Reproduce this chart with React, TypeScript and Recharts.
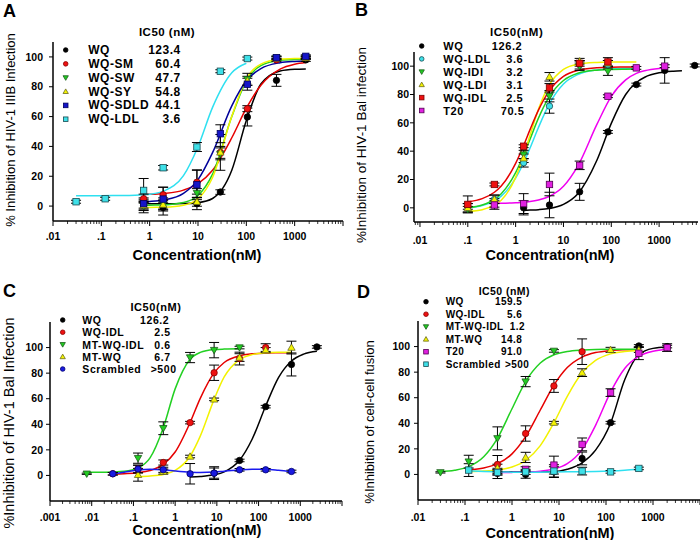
import React from 'react';
import { ComposedChart, Line, Scatter, ErrorBar, XAxis, YAxis } from 'recharts';

const FONT = '"Liberation Sans", Arial, Helvetica, sans-serif';

// ---------------- Panel A : HIV-1 IIIB infection ----------------
const A_CONC = [0.03, 0.12, 0.75, 1.9, 9.5, 29, 105, 420, 1700];
const A_WQ = [null, null, 0.5, -1, 1.6, 9.4, 59.7, 84.3, 98];
const A_WQ_ERR = [0, 0, 5, 5, 4, 1.5, 6, 4, 1];
const A_SM = [null, null, 5, 7.6, 16, 36, 65.3, 98, 99.5];
const A_SM_ERR = [0, 0, 3, 5, 8, 4, 2, 1, 1];
const A_SW = [null, null, 0, 1.5, 8.7, 35, 85, 99.5, 99.5];
const A_SW_ERR = [0, 0, 3, 4, 3, 4, 4, 1, 1];
const A_SY = [null, null, 0.5, 1, 2.9, 36, 84, 99, 99.5];
const A_SY_ERR = [0, 0, 3, 3, 3, 12, 3, 1, 1];
const A_SDLD = [null, null, 1.6, 4.7, 14.3, 48.5, 81.7, 99.5, 100.4];
const A_SDLD_ERR = [0, 0, 3, 8, 10, 6, 4, 1, 1];
const A_LDL = [2.9, 4.9, 10.5, 25.7, 39.6, 90.4, 98.9, null, null];
const A_LDL_ERR = [1, 1, 8, 1.5, 3, 1, 1, 0, 0];

const A_GRID = [0.03, 0.05, 0.1, 0.2, 0.5, 0.75, 1, 2, 5, 10, 20, 50, 100, 200, 500, 1000, 1700];
const A_WQ_FIT = [null, null, null, null, null, 1.5, 1.5, 1.5, 1.65, 2.3, 5.1, 24, 57.3, 81.8, 90.6, 91.7, 91.9];
const A_SM_FIT = [null, null, null, null, null, 7.8, 7.9, 8.5, 10.7, 15, 24, 45.8, 65.6, 81, 91.8, 95.1, 96.2];
const A_SW_FIT = [null, null, null, null, null, 0.5, 0.6, 0.8, 2.4, 7.1, 21.4, 60, 84, 94.1, 97.7, 98.3, 98.4];
const A_SY_FIT = [null, null, null, null, null, -1, -0.9, -0.75, 0.55, 4.9, 19.2, 60.2, 85.3, 95.2, 98.4, 98.9, 99];
const A_SDLD_FIT = [null, null, null, null, null, 2.9, 3.1, 4.1, 8.5, 17.7, 35.8, 67.2, 84, 92.2, 96.1, 97, 97.3];
const A_LDL_FIT = [7, 7, 7, 7.1, 7.3, 7.6, 8, 10.2, 20.4, 39.8, 66.2, 89.4, 95.8, null, null, null, null];

// ---------------- Panel B : HIV-1 Bal infection ----------------
const B_CONC = [0.1, 0.36, 1.47, 5.1, 21.8, 85, 334, 1307, 5550];
const B_WQ = [null, null, 0, 2, 11.3, 53.6, 87, 97, 100.5];
const B_WQ_ERR = [0, 0, 5, 9, 6, 1, 1, 9, 1];
const B_LDL = [1, 6, 31.8, 71.8, 101, 101, null, null, null];
const B_LDL_ERR = [2, 3, 3, 5, 3, 3, 0, 0, 0];
const B_IDI = [-1, 3.5, 37.6, 78.8, 100, 96.5, null, null, null];
const B_IDI_ERR = [2, 3, 3, 4, 3, 3, 0, 0, 0];
const B_LDI = [0, 6, 35, 92.5, 103.5, 102, null, null, null];
const B_LDI_ERR = [3, 3, 3, 3, 2, 2, 0, 0, 0];
const B_IDL = [2.4, 16.5, 43.5, 84.7, 102, 103, null, null, null];
const B_IDL_ERR = [6, 1, 1, 3, 2, 3, 0, 0, 0];
const B_T20 = [null, 2, 3, 16.5, 30, 78.8, 98.8, 100, null];
const B_T20_ERR = [0, 3, 7, 8, 3, 1, 1, 1, 0];

const B_GRID = [0.1, 0.2, 0.36, 0.5, 1, 1.47, 2, 3, 5, 10, 20, 50, 100, 200, 334, 500, 1000, 1307, 2000, 3000];
const B_WQ_FIT = [null, null, null, null, null, -1.8, -1.6, -1.3, -0.5, 2.4, 9.9, 33.6, 59.6, 80, 88.5, 92.2, 95.3, 95.9, 96.4, 96.7];
const B_LDL_FIT = [0, 1.6, 5, 8.3, 20.9, 31.8, 42.2, 56.7, 73, 87.4, 94.1, 97.3, 98.1, 98.4, 98.5, null, null, null, null, null];
const B_IDI_FIT = [0.1, 2, 6, 10, 24.9, 37.3, 48.5, 63.3, 78.1, 89.9, 95, 97.2, 97.7, 97.9, 98, null, null, null, null, null];
const B_LDI_FIT = [-2.5, -1.3, 2.1, 5.4, 21.5, 36.9, 51.2, 69.6, 86.6, 97.7, 101.4, 102.6, 102.9, 103, 103, null, null, null, null, null];
const B_IDL_FIT = [4.3, 6.5, 11, 15.4, 31.4, 44.1, 55.2, 69, 82.4, 92.8, 97, 98.8, 99.3, 99.4, 99.5, null, null, null, null, null];
const B_T20_FIT = [null, null, 3.1, 3.2, 3.6, 3.9, 4.4, 5.5, 8, 15.2, 29.6, 58.9, 78.7, 90.3, 94.9, 96.8, 98.4, 98.7, null, null];

// ---------------- Panel C : HIV-1 Bal infection ----------------
const C_CONC = [0.0076, 0.032, 0.129, 0.52, 2.28, 8.6, 35, 148, 614, 2500];
const C_WQ = [null, null, null, null, null, 1.8, 11.7, 53.8, 86.8, 100.5];
const C_WQ_ERR = [0, 0, 0, 0, 0, 5, 1, 1, 9, 1];
const C_IDL = [null, 1.3, 5, 10.1, 41.3, 80.3, 91.4, 100, null, null];
const C_IDL_ERR = [0, 1, 3, 2, 1, 6, 5, 3, 0, 0];
const C_MTIDL = [1.3, null, 13.5, 36.9, 92.2, 98, 100, null, null, null];
const C_MTIDL_ERR = [0.5, 0, 4, 5, 4, 6, 1, 0, 0, 0];
const C_MTWQ = [null, null, 0.5, 3, 14.8, 59.5, 92.2, 98, 100, null];
const C_MTWQ_ERR = [0, 0, 5, 2, 1, 1, 3, 2, 5, 0];
const C_SCR = [null, 1.3, 5, 4.4, 1.3, 1.8, 4.4, 4.4, 3.1, null];
const C_SCR_ERR = [0, 1, 3, 2, 8, 4, 1, 1, 1, 0];

const C_GRID = [0.0076, 0.015, 0.032, 0.06, 0.129, 0.25, 0.52, 1, 2.28, 4, 8.6, 15, 35, 70, 148, 300, 614, 1200, 2500];
const C_WQ_FIT = [null, null, null, null, null, null, null, null, -1.2, -0.85, 0.45, 2.8, 11.9, 28.3, 54.3, 76.5, 89.5, 94.9, 97.2];
const C_IDL_FIT = [null, null, 1.1, 1.4, 2.1, 3.8, 8.6, 18.3, 41.3, 60.3, 80.2, 88.3, 93.6, 95.1, 95.7, 95.9, 96, null, null];
const C_MTIDL_FIT = [2.5, 2.5, 2.7, 3.2, 5.8, 13.7, 37.3, 67.7, 90.9, 96.2, 98.4, 98.8, 99, null, null, null, null, null, null];
const C_MTWQ_FIT = [null, null, null, null, -0.8, -0.4, 0.8, 3.9, 15, 30.7, 59.5, 77, 90.6, 94.5, 95.9, 96.3, 96.4, null, null];
const C_SCR_FIT = [null, null, 1.3, 2.5, 4.2, 4.8, 4.4, 3.5, 2.6, 2.3, 2.6, 3.3, 4.3, 4.8, 4.8, 4.0, 2.8, null, null];

// ---------------- Panel D : cell-cell fusion ----------------
const D_CONC = [0.03, 0.12, 0.49, 1.95, 7.8, 31, 125, 500, 2000];
const D_WQ = [null, null, 0.8, 0, 2, 12.5, 40.5, 100.5, 100];
const D_WQ_ERR = [0, 0, 4, 3, 4, 5, 1, 1, 1];
const D_IDL = [null, null, 7.8, 32, 69.2, 96, null, null, null];
const D_IDL_ERR = [0, 0, 7, 6, 5, 10, 0, 0, 0];
const D_MTIDL = [1.6, 10, 28.2, 72.6, 96.6, null, null, null, null];
const D_MTIDL_ERR = [0.5, 5, 9, 4, 1, 0, 0, 0, 0];
const D_MTWQ = [null, null, 5, 13.3, 40.5, 79.6, 97.4, 97.4, null];
const D_MTWQ_ERR = [0, 0, 3, 4, 1, 3, 2, 2, 0];
const D_T20 = [null, null, 1.6, 4, 7.3, 23.5, 64, 94.8, 99.2];
const D_T20_ERR = [0, 0, 2, 2, 7, 5, 3, 5, 3];
const D_SCR = [null, 3.4, 1.6, 2, 2.6, 2.6, 2, 4.7, null];
const D_SCR_ERR = [0, 5, 2, 2, 5, 3, 1, 1, 0];

const D_GRID = [0.03, 0.06, 0.12, 0.25, 0.49, 1, 1.95, 4, 7.8, 15, 31, 60, 125, 250, 500, 1000, 2000];
const D_WQ_FIT = [null, null, null, null, 2, 2, 2, 2, 2.1, 4, 9, 19, 40, 74, 93.8, 98.6, 99.7];
const D_IDL_FIT = [null, null, 3.5, 5, 8.4, 16.1, 29.5, 50.4, 69.9, 83.6, 91.8, 95.3, 96.9, 97.5, 97.8, null, null];
const D_MTIDL_FIT = [2.2, 3.3, 6.1, 13.8, 28.2, 51.4, 72.6, 87.1, 93.6, 96.2, 97.3, 97.8, 97.9, 98, 98, null, null];
const D_MTWQ_FIT = [null, null, 2.2, 2.6, 3.5, 5.8, 10.9, 22.5, 40.4, 61.1, 79.5, 89.2, 94.3, 96.2, 97, null, null];
const D_T20_FIT = [null, null, null, null, 1.5, 1.6, 1.85, 2.5, 4.2, 8.4, 19.4, 38.4, 64.4, 82.9, 92.4, 96.3, 97.7];
const D_SCR_FIT = [null, null, 2.8, 2.3, 2, 1.8, 1.8, 1.8, 1.9, 2, 2.1, 2.3, 2.7, 3.3, 4.2, null, null];

// tick labels
const TICKS_2 = [0.01, 0.1, 1, 10, 100, 1000];
const TICK_LABELS_2 = ['.01', '.1', '1', '10', '100', '1000'];
const TICKS_3 = [0.001, 0.01, 0.1, 1, 10, 100, 1000];
const TICK_LABELS_3 = ['.001', '.01', '.1', '1', '10', '100', '1000'];
const Y_TICKS = [0, 20, 40, 60, 80, 100];

// marker / line styles
const ST = {
  black: { kind: 'circle', line: '#000000', fill: '#000000', edge: '#000000' },
  red: { kind: 'circle', line: '#e60000', fill: '#ee1111', edge: '#8a0000' },
  redSq: { kind: 'square', line: '#e60000', fill: '#ee1111', edge: '#7a0000' },
  green: { kind: 'down', line: '#22d022', fill: '#22cc22', edge: '#1a5a1a' },
  yellow: { kind: 'up', line: '#f2f200', fill: '#f4f400', edge: '#6a6a20' },
  navy: { kind: 'square', line: '#000099', fill: '#1515c8', edge: '#000060' },
  cyanSq: { kind: 'square', line: '#2ee0f0', fill: '#3ee0e8', edge: '#1a4a50' },
  cyanCirc: { kind: 'circle', line: '#2ee0f0', fill: '#3ee0e8', edge: '#1a4a50' },
  magenta: { kind: 'square', line: '#f000f0', fill: '#e020e0', edge: '#500050' },
  blue: { kind: 'circle', line: '#1a1aee', fill: '#1a1ae0', edge: '#000070' },
};

const mk = (name, ic50, style, y, err, fit) => ({ name, ic50, ...style, y, err, fit });

const PANELS = [
  {
    key: 'A', left: 0, top: 0,
    conc: A_CONC, grid: A_GRID,
    series: [
      mk('WQ', '123.4', ST.black, A_WQ, A_WQ_ERR, A_WQ_FIT),
      mk('WQ-SM', '60.4', ST.red, A_SM, A_SM_ERR, A_SM_FIT),
      mk('WQ-SW', '47.7', ST.green, A_SW, A_SW_ERR, A_SW_FIT),
      mk('WQ-SY', '54.8', ST.yellow, A_SY, A_SY_ERR, A_SY_FIT),
      mk('WQ-SDLD', '44.1', ST.navy, A_SDLD, A_SDLD_ERR, A_SDLD_FIT),
      mk('WQ-LDL', '3.6', ST.cyanSq, A_LDL, A_LDL_ERR, A_LDL_FIT),
    ],
    xDomain: [0.01, 10000], majors: [...TICKS_2, 10000], labels: TICK_LABELS_2, tickDy: 19,
    yDomain: [-10, 110],
    margin: { top: 42, right: 7, bottom: 19, left: 0 }, yWidth: 53, yTickMargin: 6,
    letter: { x: 3, y: 17 },
    yTitle: { text: '% Inhibition of HIV-1 IIIB Infection', x: 10, y: 130, size: 13 },
    xTitle: { x: 197, y: 260 },
    legend: { header: 'IC50 (nM)', hx: 167, hy: 36, hsize: 11.5, y0: 50, dy: 13.85, symX: 65.7, nameX: 88.3, valX: [180.7, 180.7, 180.7, 180.7, 180.7, 180.7], size: 12, ls: 0.5 },
  },
  {
    key: 'B', left: 350, top: 0,
    conc: B_CONC, grid: B_GRID,
    series: [
      mk('WQ', '126.2', ST.black, B_WQ, B_WQ_ERR, B_WQ_FIT),
      mk('WQ-LDL', '3.6', ST.cyanCirc, B_LDL, B_LDL_ERR, B_LDL_FIT),
      mk('WQ-IDI', '3.2', ST.green, B_IDI, B_IDI_ERR, B_IDI_FIT),
      mk('WQ-LDI', '3.1', ST.yellow, B_LDI, B_LDI_ERR, B_LDI_FIT),
      mk('WQ-IDL', '2.5', ST.redSq, B_IDL, B_IDL_ERR, B_IDL_FIT),
      mk('T20', '70.5', ST.magenta, B_T20, B_T20_ERR, B_T20_FIT),
    ],
    xDomain: [0.0075, 6500], majors: TICKS_2, labels: TICK_LABELS_2, tickDy: 22,
    yDomain: [-10, 110],
    margin: { top: 52, right: 2, bottom: 18, left: 0 }, yWidth: 64, yTickMargin: 1,
    letter: { x: 5, y: 16 },
    yTitle: { text: '%Inhibition of HIV-1 Bal infection', x: 11, y: 145, size: 13.5 },
    xTitle: { x: 200, y: 260 },
    legend: { header: 'IC50(nM)', hx: 166.7, hy: 36, hsize: 11.5, y0: 46, dy: 12.9, symX: 71.7, nameX: 93.3, valX: [172.3, 173.3, 173.3, 173.3, 173.3, 174.5], size: 11, ls: 0.6 },
  },
  {
    key: 'C', left: 0, top: 270,
    conc: C_CONC, grid: C_GRID,
    series: [
      mk('WQ', '126.2', ST.black, C_WQ, C_WQ_ERR, C_WQ_FIT),
      mk('WQ-IDL', '2.5', ST.red, C_IDL, C_IDL_ERR, C_IDL_FIT),
      mk('MT-WQ-IDL', '0.6', ST.green, C_MTIDL, C_MTIDL_ERR, C_MTIDL_FIT),
      mk('MT-WQ', '6.7', ST.yellow, C_MTWQ, C_MTWQ_ERR, C_MTWQ_FIT),
      mk('Scrambled', '>500', ST.blue, C_SCR, C_SCR_ERR, C_SCR_FIT),
    ],
    xDomain: [0.001, 10000], majors: [...TICKS_3, 10000], labels: TICK_LABELS_3, tickDy: 20,
    yDomain: [-20, 120],
    margin: { top: 52, right: 8, bottom: 9, left: 0 }, yWidth: 50, yTickMargin: 3,
    letter: { x: 3, y: 27 },
    yTitle: { text: '%Inhibition of HIV-1 Bal Infection', x: 9, y: 153, size: 14.5 },
    xTitle: { x: 197, y: 265 },
    legend: { header: 'IC50(nM)', hx: 156, hy: 41.3, hsize: 11, y0: 50, dy: 12.25, symX: 62.7, nameX: 82.3, valX: [169.3, 170.7, 170.7, 170.7, 176.7], size: 10.5, ls: 0.6 },
  },
  {
    key: 'D', left: 350, top: 270,
    conc: D_CONC, grid: D_GRID,
    series: [
      mk('WQ', '159.5', ST.black, D_WQ, D_WQ_ERR, D_WQ_FIT),
      mk('WQ-IDL', '5.6', ST.red, D_IDL, D_IDL_ERR, D_IDL_FIT),
      mk('MT-WQ-IDL', '1.2', ST.green, D_MTIDL, D_MTIDL_ERR, D_MTIDL_FIT),
      mk('MT-WQ', '14.8', ST.yellow, D_MTWQ, D_MTWQ_ERR, D_MTWQ_FIT),
      mk('T20', '91.0', ST.magenta, D_T20, D_T20_ERR, D_T20_FIT),
      mk('Scrambled', '>500', ST.cyanSq, D_SCR, D_SCR_ERR, D_SCR_FIT),
    ],
    xDomain: [0.01, 10000], majors: [...TICKS_2, 10000], labels: TICK_LABELS_2, tickDy: 21,
    yDomain: [-20, 120],
    margin: { top: 51, right: 0, bottom: 10, left: 0 }, yWidth: 68, yTickMargin: 4,
    letter: { x: 7, y: 28 },
    yTitle: { text: '%Inhibition of cell-cell fusion', x: 19, y: 152, size: 13 },
    xTitle: { x: 200, y: 268 },
    legend: { header: 'IC50 (nM)', hx: 154.3, hy: 25, hsize: 10.5, y0: 31.7, dy: 12.5, symX: 76, nameX: 95.7, valX: [172.3, 172.3, 175, 172.3, 172.3, 179.3], size: 10, ls: 0.45 },
  },
];

// minor + major tick positions on a log axis
function logTicks(lo, hi) {
  const out = [];
  for (let e = Math.floor(Math.log10(lo)); e <= Math.ceil(Math.log10(hi)); e++) {
    for (let k = 1; k <= 9; k++) {
      const v = k * Math.pow(10, e);
      if (v >= lo * 0.9999 && v <= hi * 1.0001) out.push(v);
    }
  }
  return out;
}

function Marker({ cx, cy, kind, fill, edge, s = 3.2 }) {
  if (cx == null || cy == null || isNaN(cx) || isNaN(cy)) return null;
  const common = { fill, stroke: edge, strokeWidth: 0.8 };
  if (kind === 'circle') return <circle cx={cx} cy={cy} r={s} {...common} />;
  if (kind === 'square') return <rect x={cx - s} y={cy - s} width={2 * s} height={2 * s} {...common} />;
  if (kind === 'up')
    return <polygon points={`${cx},${cy - s * 1.15} ${cx + s * 1.15},${cy + s * 0.85} ${cx - s * 1.15},${cy + s * 0.85}`} {...common} />;
  return <polygon points={`${cx},${cy + s * 1.15} ${cx + s * 1.15},${cy - s * 0.85} ${cx - s * 1.15},${cy - s * 0.85}`} {...common} />;
}

function LogTick({ x, y, payload, majors, labels, dy }) {
  const v = payload.value;
  const idx = majors.findIndex((m) => Math.abs(v / m - 1) < 1e-6);
  const major = idx >= 0;
  const label = major ? labels[idx] : undefined;
  return (
    <g>
      <line x1={x} x2={x} y1={y} y2={y + (major ? 5 : 3)} stroke="#000" strokeWidth={major ? 1 : 0.8} />
      {label && (
        <text x={x} y={y + dy} textAnchor="middle" fontSize={10.5} fontWeight={700} fontFamily={FONT} fill="#000">
          {label}
        </text>
      )}
    </g>
  );
}

function Panel({ p }) {
  const ticks = logTicks(p.xDomain[0], p.xDomain[1]);
  const L = p.legend;
  return (
    <div style={{ position: 'absolute', left: p.left, top: p.top, width: 350, height: 270 }}>
      <ComposedChart width={350} height={270} margin={p.margin}>
        <XAxis
          type="number"
          dataKey="x"
          scale="log"
          domain={p.xDomain}
          allowDataOverflow
          ticks={ticks}
          interval={0}
          tickSize={0}
          tickMargin={0}
          tickLine={false}
          height={30}
          axisLine={{ stroke: '#000', strokeWidth: 1.5 }}
          tick={<LogTick majors={p.majors} labels={p.labels} dy={p.tickDy} />}
        />
        <YAxis
          type="number"
          dataKey="y"
          domain={p.yDomain}
          allowDataOverflow
          ticks={Y_TICKS}
          interval={0}
          width={p.yWidth}
          tickSize={4}
          tickMargin={p.yTickMargin}
          axisLine={{ stroke: '#000', strokeWidth: 1.5 }}
          tickLine={{ stroke: '#000', strokeWidth: 1 }}
          tick={{ fontSize: 10.5, fontWeight: 700, fill: '#000', fontFamily: FONT }}
        />
        {p.series.map((s) => (
          <Line
            key={'l' + s.name}
            data={p.grid.map((x, i) => (s.fit[i] == null ? null : { x, y: s.fit[i] })).filter(Boolean)}
            dataKey="y"
            type="monotone"
            stroke={s.line}
            strokeWidth={1.5}
            dot={false}
            activeDot={false}
            isAnimationActive={false}
          />
        ))}
        {p.series.map((s) => (
          <Scatter
            key={'s' + s.name}
            data={p.conc.map((x, i) => (s.y[i] == null ? null : { x, y: s.y[i], e: s.err[i] })).filter(Boolean)}
            isAnimationActive={false}
            shape={(props) => <Marker cx={props.cx} cy={props.cy} kind={s.kind} fill={s.fill} edge={s.edge} />}
          >
            <ErrorBar dataKey="e" direction="y" width={5} stroke="#000" strokeWidth={1} isAnimationActive={false} />
          </Scatter>
        ))}
      </ComposedChart>
      <svg
        width={350}
        height={270}
        style={{ position: 'absolute', left: 0, top: 0, pointerEvents: 'none' }}
        fontFamily={FONT}
      >
        <text x={p.letter.x} y={p.letter.y} fontSize={18} fontWeight={700} fill="#000">
          {p.key}
        </text>
        <text
          transform={`translate(${p.yTitle.x},${p.yTitle.y}) rotate(-90)`}
          textAnchor="middle"
          dominantBaseline="central"
          fontSize={p.yTitle.size}
          fill="#000"
        >
          {p.yTitle.text}
        </text>
        <text x={p.xTitle.x} y={p.xTitle.y} textAnchor="middle" fontSize={14.5} fontWeight={700} fill="#000">
          Concentration(nM)
        </text>
        <text x={L.hx} y={L.hy} textAnchor="middle" fontSize={L.hsize} fontWeight={700} letterSpacing={L.ls} fill="#000">
          {L.header}
        </text>
        {p.series.map((s, i) => {
          const cy = L.y0 + i * L.dy;
          return (
            <g key={s.name}>
              <Marker cx={L.symX} cy={cy} kind={s.kind} fill={s.fill} edge={s.edge} s={2.3} />
              <text x={L.nameX} y={cy} dominantBaseline="central" fontSize={L.size} fontWeight={700} letterSpacing={L.ls} fill="#000">
                {s.name}
              </text>
              <text x={L.valX[i]} y={cy} textAnchor="end" dominantBaseline="central" fontSize={L.size} fontWeight={700} letterSpacing={L.ls} fill="#000">
                {s.ic50}
              </text>
            </g>
          );
        })}
      </svg>
    </div>
  );
}

export default function App() {
  return (
    <div style={{ position: 'absolute', left: 0, top: 0, width: 700, height: 540, background: '#fff', overflow: 'hidden' }}>
      {PANELS.map((p) => (
        <Panel key={p.key} p={p} />
      ))}
    </div>
  );
}
